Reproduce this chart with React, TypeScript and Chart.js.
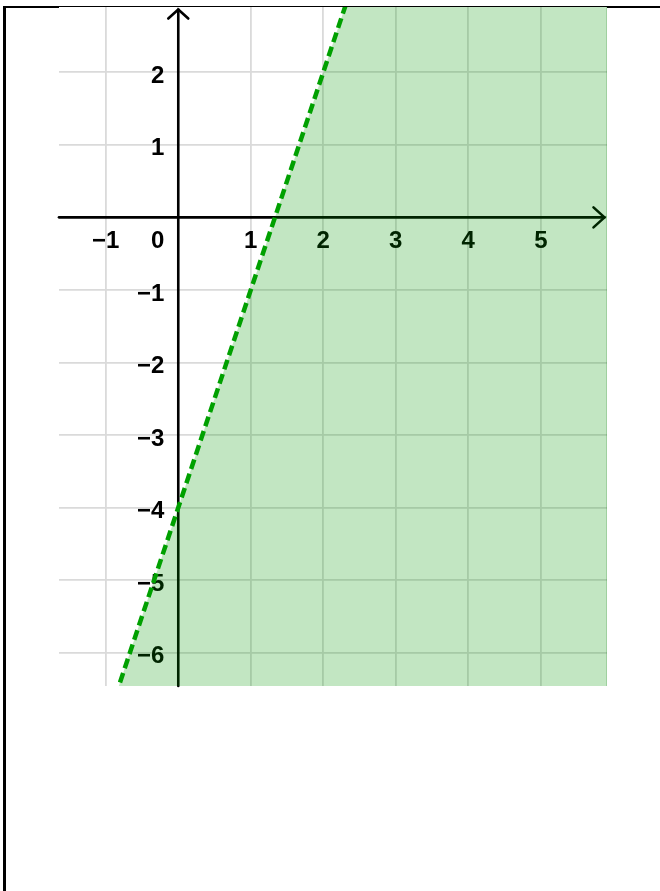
import React, { useEffect, useRef } from "react";
import { Chart, registerables } from "chart.js";

Chart.register(...registerables);

// Visible window of the coordinate plane
const X_MIN = -1.645;
const X_MAX = 5.913;
const Y_MIN = -6.46;
const Y_MAX = 2.9;

// Tick labels along each axis (the origin gets its own "0")
const xTickValues = [-1, 1, 2, 3, 4, 5];
const yTickValues = [2, 1, -1, -2, -3, -4, -5, -6];
const originLabel = "0";

// Boundary line y = 3x − 4 (dashed: strict inequality), through (0, −4) and (2, 2)
const boundaryX = [-1, 3];
const boundaryY = [-7, 5];

// Solution region y < 3x − 4: everything to the right of / below the boundary
const shadeX = [-1, 3, 6];
const shadeY = [-7, 5, 5];

const FONT = "bold 24px 'Liberation Sans', Arial, sans-serif";

const fmt = (v: number) => (v < 0 ? "\u2212" + Math.abs(v) : String(v));

const planePlugin = {
  id: "plane",
  beforeDraw(chart: any) {
    const { ctx, chartArea: a } = chart;
    ctx.save();
    ctx.fillStyle = "#ffffff";
    ctx.fillRect(a.left, a.top, a.right - a.left, a.bottom - a.top);
    ctx.restore();
  },
  beforeDatasetsDraw(chart: any) {
    const { ctx, chartArea: a, scales } = chart;
    const xs = scales.x;
    const ys = scales.y;
    const x0 = xs.getPixelForValue(0);
    const y0 = ys.getPixelForValue(0);
    ctx.save();
    ctx.strokeStyle = "#000000";
    ctx.lineWidth = 2.6;
    ctx.lineCap = "round";
    ctx.lineJoin = "round";

    // x axis with arrow
    const xTip = a.right - 2.5;
    ctx.beginPath();
    ctx.moveTo(a.left, y0);
    ctx.lineTo(xTip, y0);
    ctx.stroke();
    ctx.beginPath();
    ctx.moveTo(xTip - 11, y0 - 10);
    ctx.lineTo(xTip, y0);
    ctx.lineTo(xTip - 11, y0 + 10);
    ctx.stroke();

    // y axis with arrow
    const yTip = a.top + 2.5;
    ctx.beginPath();
    ctx.moveTo(x0, a.bottom);
    ctx.lineTo(x0, yTip);
    ctx.stroke();
    ctx.beginPath();
    ctx.moveTo(x0 - 10, yTip + 9);
    ctx.lineTo(x0, yTip);
    ctx.lineTo(x0 + 10, yTip + 9);
    ctx.stroke();

    // tick labels
    ctx.fillStyle = "#000000";
    ctx.font = FONT;
    ctx.textBaseline = "middle";
    ctx.textAlign = "center";
    xTickValues.forEach((v) => {
      ctx.fillText(fmt(v), xs.getPixelForValue(v), y0 + 24.5);
    });
    ctx.fillText(originLabel, x0 - 20.5, y0 + 24.5);
    ctx.textAlign = "right";
    yTickValues.forEach((v) => {
      ctx.fillText(fmt(v), x0 - 14, ys.getPixelForValue(v) + 4);
    });
    ctx.restore();
  },
  afterDatasetsDraw(chart: any) {
    const { ctx, chartArea: a } = chart;
    ctx.save();
    ctx.strokeStyle = "rgba(0,110,0,0.18)";
    ctx.lineWidth = 1;
    ctx.beginPath();
    ctx.moveTo(a.right - 0.5, a.top);
    ctx.lineTo(a.right - 0.5, a.bottom);
    ctx.stroke();
    ctx.restore();
  },
};

function InequalityGraph() {
  const canvasRef = useRef<HTMLCanvasElement | null>(null);

  useEffect(() => {
    const canvas = canvasRef.current;
    if (!canvas) return;
    const boundary = boundaryX.map((x, i) => ({ x, y: boundaryY[i] }));
    const shade = shadeX.map((x, i) => ({ x, y: shadeY[i] }));

    const gridOpts = {
      display: true,
      color: "#dadada",
      lineWidth: 1.8,
      drawTicks: false,
    };

    const chart = new Chart(canvas, {
      type: "scatter",
      data: {
        datasets: [
          {
            label: "y = 3x − 4",
            data: boundary,
            showLine: true,
            borderColor: "#00a000",
            borderWidth: 4.5,
            borderDash: [10, 5],
            pointRadius: 0,
            fill: false,
            clip: 0,
            order: 0,
          } as any,
          {
            label: "y < 3x − 4",
            data: shade,
            showLine: true,
            borderWidth: 0,
            borderColor: "rgba(0,0,0,0)",
            backgroundColor: "rgba(0,150,0,0.24)",
            pointRadius: 0,
            fill: "start",
            clip: 0,
            order: 1,
          } as any,
        ],
      },
      options: {
        responsive: false,
        animation: false,
        devicePixelRatio: 1,
        layout: { padding: { left: 59, top: 7, right: 53, bottom: 205 } },
        plugins: {
          legend: { display: false },
          tooltip: { enabled: false },
        },
        events: [],
        scales: {
          x: {
            type: "linear",
            min: X_MIN,
            max: X_MAX,
            ticks: { display: false, stepSize: 1, includeBounds: false, padding: 0 },
            grid: gridOpts,
            border: { display: false },
          },
          y: {
            type: "linear",
            min: Y_MIN,
            max: Y_MAX,
            ticks: { display: false, stepSize: 1, includeBounds: false, padding: 0 },
            grid: gridOpts,
            border: { display: false },
          },
        },
      },
      plugins: [planePlugin],
    });

    return () => chart.destroy();
  }, []);

  return (
    <canvas
      ref={canvasRef}
      width={660}
      height={891}
      style={{ position: "absolute", left: 0, top: 0, width: 660, height: 891 }}
    />
  );
}

export default function App() {
  return (
    <div
      style={{
        position: "absolute",
        left: 0,
        top: 0,
        width: 660,
        height: 891,
        background: "#ffffff",
        overflow: "hidden",
      }}
    >
      <div style={{ position: "absolute", left: 3, top: 6, width: 657, height: 2, background: "#000" }} />
      <div style={{ position: "absolute", left: 3, top: 6, width: 3, height: 885, background: "#000" }} />
      <InequalityGraph />
    </div>
  );
}
